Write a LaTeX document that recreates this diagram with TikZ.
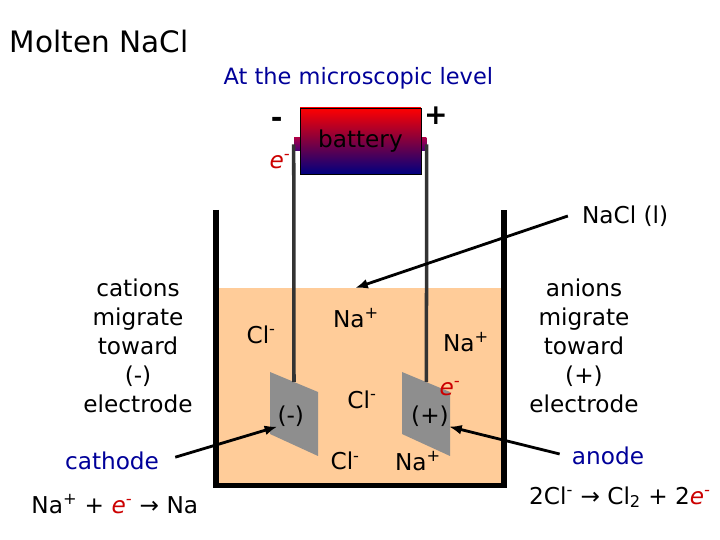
\documentclass[tikz,border=0pt]{standalone}
\usepackage{fontspec}
\setmainfont{DejaVu Sans}
\usetikzlibrary{arrows.meta, positioning, calc}
\definecolor{liquid}{RGB}{255,204,153}
\definecolor{plate}{RGB}{142,142,142}
\definecolor{wire}{RGB}{51,51,51}
\definecolor{titleblue}{RGB}{0,0,153}
\definecolor{eminus}{RGB}{204,0,0}
\definecolor{batteryblue}{RGB}{0,0,128}
\definecolor{termtop}{RGB}{170,0,70}
\definecolor{termbottom}{RGB}{70,0,120}
\newcommand{\elec}{{\color{eminus}\itshape e\textsuperscript{-}}}

\begin{document}
\begin{tikzpicture}[
  label/.style={inner sep=0pt, font=\fontsize{16.5}{20.6}\selectfont, align=center},
  bluelabel/.style={label, text=titleblue},
  electron/.style={label, text=eminus, font=\fontsize{16.5}{20.6}\selectfont\itshape},
  sign/.style={label, font=\bfseries\fontsize{20}{20}\selectfont},
  arrow/.style={-{Latex[length=9pt,width=7pt]}, line width=2pt},
  electrode/.style={fill=plate, draw=none},
  wireline/.style={wire, line width=2.5pt},
  batterybox/.style={label, draw=black, line width=0.4pt, top color=red, bottom color=batteryblue, minimum width=3.02cm, minimum height=1.65cm},
  terminal/.style={top color=termtop, bottom color=termbottom, inner sep=0pt, minimum width=0.15cm, minimum height=0.33cm}
]
\useasboundingbox (0, 0) rectangle (18, 13.5);

% liquid
\fill[liquid] (5.45, 1.4) rectangle (12.55, 6.3);

% electrodes
\path[electrode] (6.75, 4.2) -- (7.95, 3.7) -- (7.95, 2.1) -- (6.75, 2.65) -- cycle;
\path[electrode] (10.05, 4.2) -- (11.25, 3.7) -- (11.25, 2.1) -- (10.05, 2.65) -- cycle;
\coordinate (plateL) at (7.35, 3.95);
\coordinate (plateR) at (10.66, 3.95);

% battery
\node[terminal] (termL) at (7.425, 9.89) {};
\node[terminal] (termR) at (10.585, 9.89) {};
\draw[wireline] (termL.west) -- (plateL);
\draw[wireline] (termR.east) -- (plateR);
\node[batterybox] (battery) at (9.01, 9.975) {battery};

% beaker
\draw[line width=4pt, miter limit=10] (5.4, 8.25) -- (5.4, 1.36) -- (12.6, 1.36) -- (12.6, 8.25);

% labels
\node[label, font=\fontsize{21}{26}\selectfont] (title) at (2.48, 12.47) {Molten NaCl};
\node[bluelabel, font=\fontsize{16}{20}\selectfont] (level) at (8.96, 11.55) {At the microscopic level};
\node[sign] (minus) at (6.92, 10.45) {-};
\node[sign] (plus) at (10.9, 10.6) {+};
\node[electron] (eBat) at (7.0, 9.45) {e\textsuperscript{-}};
\node[label] (nacl) at (15.63, 8.1) {NaCl (l)};
\node[label] (cations) at (3.45, 4.85) {cations\\migrate\\toward\\(-)\\electrode};
\node[label] (anions) at (14.6, 4.85) {anions\\migrate\\toward\\(+)\\electrode};
\node[bluelabel] (cathode) at (2.8, 1.97) {cathode};
\node[bluelabel] (anode) at (15.2, 2.1) {anode};
\node[label] (cathodeEq) at (2.87, 0.9) {Na\textsuperscript{+} + \elec{} → Na};
\node[label] (anodeEq) at (15.5, 1.07) {2Cl\textsuperscript{-} → Cl\textsubscript{2} + 2\elec};

% ions
\node[label] (cl1) at (6.53, 5.13) {Cl\textsuperscript{-}};
\node[label] (na1) at (8.9, 5.55) {Na\textsuperscript{+}};
\node[label] (na2) at (11.65, 4.95) {Na\textsuperscript{+}};
\node[label] (cl2) at (9.05, 3.5) {Cl\textsuperscript{-}};
\node[label] (cl3) at (8.63, 1.97) {Cl\textsuperscript{-}};
\node[label] (na3) at (10.45, 1.97) {Na\textsuperscript{+}};
\node[electron] (ePlate) at (11.25, 3.78) {e\textsuperscript{-}};
\node[label] (platePlus) at (10.75, 3.1) {(+)};
\node[label] (plateMinus) at (7.27, 3.1) {(-)};

% arrows
\coordinate (surface) at (8.88, 6.3);
\draw[arrow] ([xshift=-0.35cm]nacl.west) -- (surface);
\draw[arrow] ([xshift=0.4cm, yshift=0.1cm]cathode.east) -- (plateMinus.south west);
\draw[arrow] ([xshift=-0.3cm, yshift=0.05cm]anode.west) -- (platePlus.south east);

\end{tikzpicture}
\end{document}
